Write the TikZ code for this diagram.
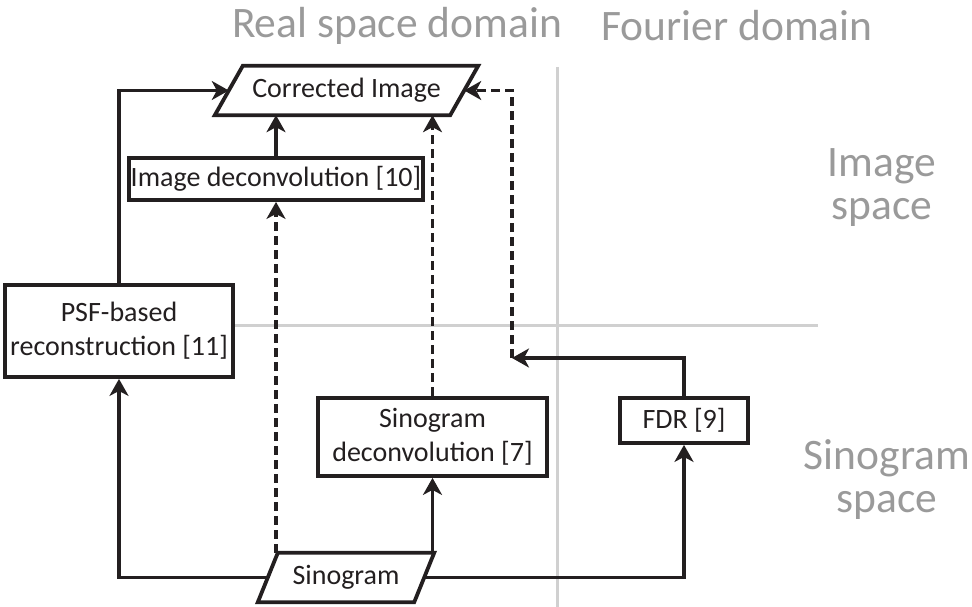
\documentclass[tikz,border=0pt]{standalone}
\usepackage{fontspec}
\setmainfont{Carlito}
\usetikzlibrary{arrows.meta}
\definecolor{ink}{HTML}{231F20}
\definecolor{lbl}{HTML}{9A9A9A}
\definecolor{grid}{HTML}{D0D0D0}
\begin{document}
\begin{tikzpicture}[x=1pt,y=-1pt,
  boxtext/.style={font=\fontsize{28}{34}\selectfont, text=ink, align=center},
  box/.style={boxtext, draw=ink, line width=3.8pt, inner sep=0pt},
  para/.style={boxtext, inner sep=0pt},
  outline/.style={draw=ink, line width=3.8pt, line join=miter},
  arr/.style={draw=ink, line width=3.5pt, -{Stealth[length=17pt,width=19pt,inset=5pt]}},
  darr/.style={arr, dash pattern=on 9pt off 5pt},
  title/.style={font=\fontsize{43.5}{43}\selectfont, text=lbl, align=center},
  gridline/.style={draw=grid, line width=3pt}
]
\useasboundingbox (0,0) rectangle (972,607);

% region labels
\node[title] (t1) at (397,26) {Real space domain};
\node[title] (t2) at (737,26) {Fourier domain};
\node[title] (t3) at (882,188) {Image\\space};
\node[title] (t4) at (887,480) {Sinogram\\space};

% grid lines
\draw[gridline] (557,67) -- (557,607);
\draw[gridline] (233,325) -- (818,325);

% nodes
\node[para, minimum width=235pt, minimum height=49pt] (ci) at (346.5,90.5) {Corrected Image};
\draw[outline] ([xshift=-14pt]ci.south west) -- ([xshift=-14pt]ci.south east)
  -- ([xshift=14pt]ci.north east) -- ([xshift=14pt]ci.north west) -- cycle;

\node[box, minimum width=294pt, minimum height=42pt] (imgdec) at (276,179) {Image deconvolution [10]};
\node[box, fill=white, minimum width=228pt, minimum height=92pt] (psf) at (119,331) {PSF-based\\reconstruction [11]};
\node[box, minimum width=229pt, minimum height=78pt] (sindec) at (432.5,437) {Sinogram\\deconvolution [7]};
\node[box, minimum width=128pt, minimum height=45pt] (fdr) at (684,420.5) {FDR [9]};

\node[para, minimum width=156pt, minimum height=49pt] (sg) at (346,577.5) {Sinogram};
\draw[outline] ([xshift=-10pt]sg.south west) -- ([xshift=-10pt]sg.south east)
  -- ([xshift=10pt]sg.north east) -- ([xshift=10pt]sg.north west) -- cycle;

\coordinate (j) at (512,358);

% connectors
\draw[arr] (psf.north) |- (ci.west);
\draw[arr] (imgdec.north) -- (imgdec.north |- ci.south);
\draw[darr] (sindec.north) -- (sindec.north |- ci.south);
\draw[darr] (imgdec.south |- sg.north) -- (imgdec.south);
\draw[arr] (sindec.south |- sg.north) -- (sindec.south);
\draw[arr] (sg.west) -| (psf.south);
\draw[arr] (sg.east) -| (fdr.south);
\draw[arr] (fdr.north) |- (j);
\draw[darr] (j) |- (ci.east);
\end{tikzpicture}
\end{document}
